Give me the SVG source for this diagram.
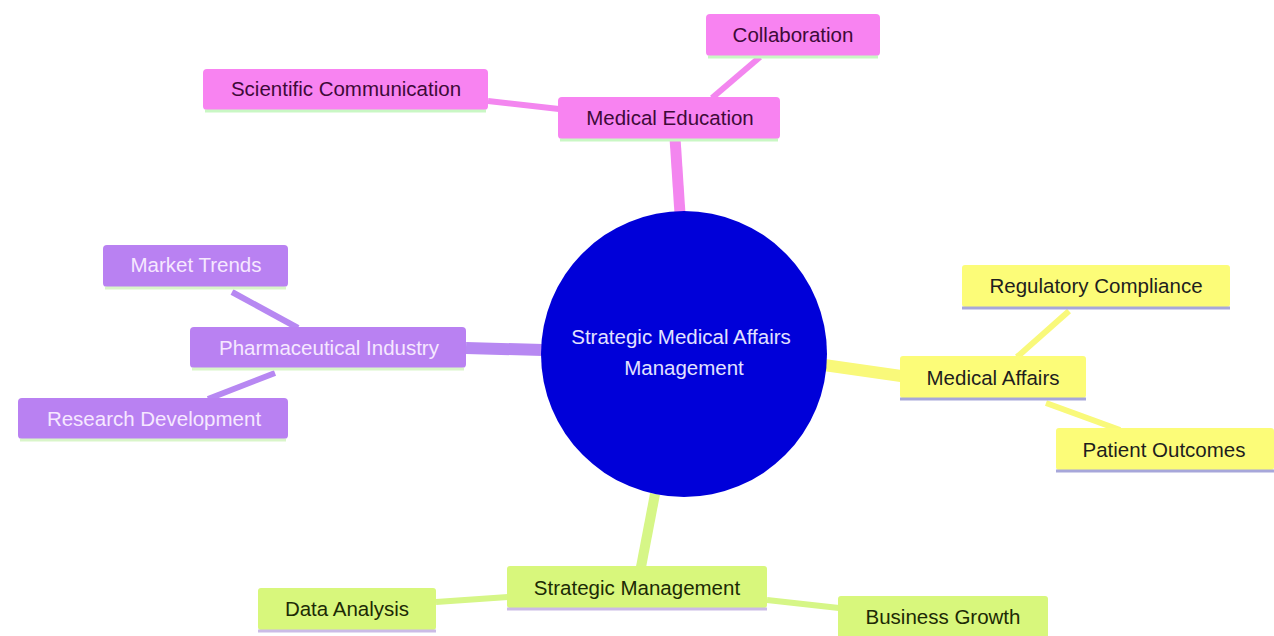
<svg xmlns="http://www.w3.org/2000/svg" width="1274" height="636" viewBox="0 0 1274 636">
<style>
text{font-family:"Liberation Sans",Arial,sans-serif;font-size:20.5px;text-anchor:middle;}
.pk rect.b{fill:#f883f1;}
.pk .ln{stroke:#c9f7c4;}
.pk text{fill:#3e0a38;}
.pu rect.b{fill:#b981f2;}
.pu .ln{stroke:#d9f5c9;}
.pu text{fill:#f6e8ff;}
.ye rect.b{fill:#fcfc78;}
.ye .ln{stroke:#a7a7da;}
.ye text{fill:#1e1e1e;}
.gr rect.b{fill:#d8f77c;}
.gr .ln{stroke:#cbbbe6;}
.gr text{fill:#1c2a05;}
.ln{stroke-width:3;fill:none;}
.e{fill:none;stroke-linecap:butt;}
.epk{stroke:#f386ef;}
.epu{stroke:#b788f2;}
.eye{stroke:#f9f97a;}
.egr{stroke:#d6f687;}
</style>
<rect width="1274" height="636" fill="#ffffff"/>
<g id="connectors">
  <line class="e epk" x1="675" y1="138" x2="680" y2="214" stroke-width="11"/>
  <line class="e epk" x1="488" y1="101" x2="559" y2="109" stroke-width="6"/>
  <line class="e epk" x1="760" y1="57" x2="712" y2="98" stroke-width="6"/>
  <line class="e epu" x1="466" y1="348" x2="543" y2="350" stroke-width="12"/>
  <line class="e epu" x1="232" y1="292" x2="298" y2="328" stroke-width="6"/>
  <line class="e epu" x1="275" y1="373" x2="208" y2="399" stroke-width="6"/>
  <line class="e eye" x1="824" y1="365" x2="901" y2="376" stroke-width="12"/>
  <line class="e eye" x1="1069" y1="311" x2="1017" y2="357" stroke-width="6"/>
  <line class="e eye" x1="1046" y1="403" x2="1120" y2="430" stroke-width="6"/>
  <line class="e egr" x1="655" y1="494" x2="641" y2="567" stroke-width="10"/>
  <line class="e egr" x1="436" y1="602" x2="508" y2="597" stroke-width="6"/>
  <line class="e egr" x1="767" y1="600" x2="839" y2="608" stroke-width="6"/>
</g>
<g id="root">
  <circle cx="684" cy="354" r="143" fill="#0000d9"/>
  <text x="681" y="344" fill="#e2e2ff">Strategic Medical Affairs</text>
  <text x="684" y="375" fill="#e2e2ff">Management</text>
</g>
<g id="medical-education" class="pk">
  <rect class="b" x="558" y="97" width="222" height="42" rx="4"/>
  <line class="ln" x1="560" y1="140" x2="778" y2="140"/>
  <text x="670" y="125">Medical Education</text>
</g>
<g id="collaboration" class="pk">
  <rect class="b" x="706" y="14" width="174" height="42" rx="4"/>
  <line class="ln" x1="708" y1="57" x2="878" y2="57"/>
  <text x="793" y="42">Collaboration</text>
</g>
<g id="scientific-communication" class="pk">
  <rect class="b" x="203" y="69" width="285" height="41" rx="4"/>
  <line class="ln" x1="205" y1="111" x2="486" y2="111"/>
  <text x="346" y="96">Scientific Communication</text>
</g>
<g id="pharmaceutical-industry" class="pu">
  <rect class="b" x="190" y="327" width="276" height="41" rx="4"/>
  <line class="ln" x1="192" y1="369" x2="464" y2="369"/>
  <text x="329" y="355">Pharmaceutical Industry</text>
</g>
<g id="market-trends" class="pu">
  <rect class="b" x="103" y="245" width="185" height="42" rx="4"/>
  <line class="ln" x1="105" y1="288" x2="286" y2="288"/>
  <text x="196" y="272">Market Trends</text>
</g>
<g id="research-development" class="pu">
  <rect class="b" x="18" y="398" width="270" height="41" rx="4"/>
  <line class="ln" x1="20" y1="440" x2="286" y2="440"/>
  <text x="154" y="426">Research Development</text>
</g>
<g id="medical-affairs" class="ye">
  <rect class="b" x="900" y="356" width="186" height="42" rx="3"/>
  <line class="ln" x1="900" y1="399" x2="1086" y2="399"/>
  <text x="993" y="385">Medical Affairs</text>
</g>
<g id="regulatory-compliance" class="ye">
  <rect class="b" x="962" y="265" width="268" height="42" rx="3"/>
  <line class="ln" x1="962" y1="308" x2="1230" y2="308"/>
  <text x="1096" y="293">Regulatory Compliance</text>
</g>
<g id="patient-outcomes" class="ye">
  <rect class="b" x="1056" y="428" width="218" height="42" rx="3"/>
  <line class="ln" x1="1056" y1="471" x2="1274" y2="471"/>
  <text x="1164" y="457">Patient Outcomes</text>
</g>
<g id="strategic-management" class="gr">
  <rect class="b" x="507" y="566" width="260" height="42" rx="3"/>
  <line class="ln" x1="507" y1="609" x2="767" y2="609"/>
  <text x="637" y="595">Strategic Management</text>
</g>
<g id="data-analysis" class="gr">
  <rect class="b" x="258" y="588" width="178" height="42" rx="3"/>
  <line class="ln" x1="258" y1="631" x2="436" y2="631"/>
  <text x="347" y="616">Data Analysis</text>
</g>
<g id="business-growth" class="gr">
  <rect class="b" x="838" y="596" width="210" height="42" rx="3"/>
  <line class="ln" x1="838" y1="639" x2="1048" y2="639"/>
  <text x="943" y="624">Business Growth</text>
</g>
</svg>
